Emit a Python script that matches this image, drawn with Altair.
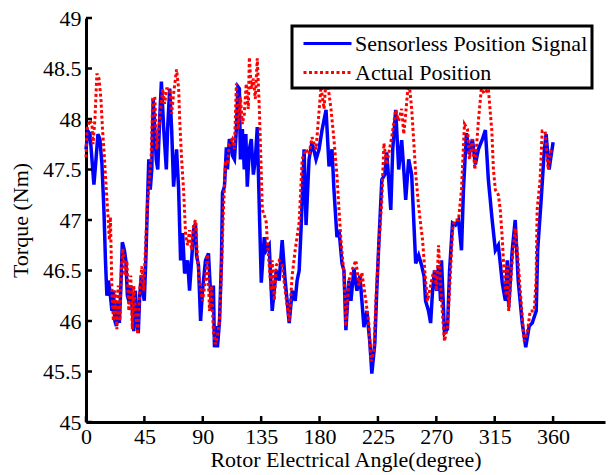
import altair as alt
import pandas as pd

series_names = ["Sensorless Position Signal", "Actual Position"]

blue_x = [0, 1.5, 3.1, 4.6, 6.1, 7.7, 9.2, 10.7, 12.3, 13.8, 15.0, 16.1, 17.3, 18.4, 20.0, 21.1, 22.3, 23.4, 24.6, 25.7,
          26.9, 28.0, 29.6, 30.7, 31.9, 33.0, 34.5, 35.7, 36.8, 38.0, 39.1, 40.3, 41.4, 42.6, 43.8, 44.9, 46.1, 47.2, 48.4, 49.5,
          50.7, 51.8, 53.0, 54.1, 55.3, 56.8, 58.1, 59.9, 61.9, 62.9, 64.5, 66.0, 67.5, 69.8, 71.4, 72.9, 74.5, 76.0, 78.3, 79.8,
          81.4, 82.9, 84.4, 85.2, 86.7, 88.3, 89.8, 92.1, 94.4, 96.7, 98.2, 99.0, 100.6, 101.3, 102.9, 104.4, 105.2, 106.7, 108.2, 109.0,
          110.5, 112.1, 112.8, 114.4, 115.9, 117.1, 118.2, 119.0, 120.5, 122.0, 123.2, 124.3, 125.9, 127.4, 129.0, 130.5, 132.0, 133.6, 135.1, 137.4,
          138.9, 141.2, 143.5, 146.6, 148.9, 151.2, 153.5, 155.0, 156.6, 158.9, 161.2, 162.7, 164.3, 165.8, 168.1, 169.6, 171.9, 174.2, 177.3, 179.6,
          181.9, 185.0, 187.3, 189.6, 191.1, 193.4, 195.0, 197.3, 198.8, 200.3, 202.6, 204.2, 206.5, 208.8, 211.1, 214.2, 216.5, 218.8, 220.3, 222.6,
          224.1, 225.7, 228.0, 230.3, 231.8, 234.9, 236.4, 238.7, 241.0, 243.3, 244.9, 246.4, 248.7, 251.0, 254.1, 256.4, 258.7, 260.6, 261.7, 264.0,
          265.6, 267.1, 268.6, 270.2, 271.7, 273.3, 274.0, 276.3, 278.6, 280.2, 282.5, 284.8, 287.1, 289.4, 290.9, 293.2, 295.5, 297.8, 300.1, 302.4,
          305.5, 307.8, 310.1, 312.8, 315.5, 317.8, 320.9, 323.2, 324.7, 325.8, 328.5, 330.8, 333.1, 336.2, 338.9, 341.6, 343.9, 347.0, 348.1, 350.8,
          353.1, 354.6, 356.9, 360.0]
blue_y = [47.7, 47.88, 47.85, 47.6, 47.35, 47.6, 47.85, 47.8, 47.55, 47.1, 46.6, 46.25, 46.4, 46.3, 46.1, 46.3, 46.0, 45.95, 46.2, 45.98,
          46.35, 46.78, 46.7, 46.6, 46.25, 46.2, 46.35, 46.1, 45.9, 46.3, 46.0, 45.88, 46.25, 46.45, 46.3, 46.2, 46.6, 47.1, 47.6, 47.3,
          47.5, 48.2, 47.9, 47.6, 47.5, 48.0, 48.37, 47.9, 47.5, 47.9, 48.3, 47.9, 47.33, 47.7, 47.3, 46.6, 46.87, 46.47, 46.6, 46.3,
          46.6, 46.9, 46.97, 46.65, 46.55, 46.0, 46.3, 46.6, 46.67, 46.1, 46.35, 45.74, 45.95, 45.74, 46.0, 46.6, 47.27, 47.33, 47.72, 47.5,
          47.8, 47.75, 47.64, 47.6, 47.9, 48.32, 48.3, 47.6, 47.9, 47.5, 47.85, 47.33, 47.7, 47.8, 47.45, 47.6, 47.92, 47.1, 46.38, 46.83,
          46.7, 46.75, 46.1, 46.5, 46.4, 46.8, 46.4, 46.2, 45.98, 46.3, 46.2, 46.4, 46.5, 46.93, 47.7, 46.95, 47.6, 47.77, 47.6, 47.7,
          47.89, 48.09, 47.53, 47.7, 47.3, 46.83, 46.9, 46.57, 46.5, 45.91, 46.4, 46.2, 46.52, 46.3, 46.45, 45.94, 46.1, 45.78, 45.48, 45.78,
          46.3, 46.77, 47.4, 47.45, 47.67, 47.1, 47.7, 48.09, 47.5, 47.79, 47.5, 47.2, 47.6, 47.45, 46.57, 46.65, 46.55, 46.44, 46.2, 46.1,
          45.98, 46.3, 46.5, 46.3, 46.55, 46.2, 46.6, 45.88, 45.92, 46.5, 46.97, 46.95, 47.0, 46.7, 47.3, 47.86, 47.65, 47.8, 47.55, 47.7,
          47.8, 47.89, 47.4, 47.03, 46.7, 46.75, 46.37, 46.2, 46.6, 46.14, 46.7, 47.0, 46.4, 45.98, 45.74, 45.95, 45.98, 46.1, 46.7, 47.2,
          47.67, 47.85, 47.5, 47.77]

red_x = [0, 0.8, 3.1, 4.6, 5.4, 6.9, 8.4, 10.0, 11.5, 12.7, 13.8, 15.4, 16.9, 18.0, 18.8, 20.0, 21.1, 22.3, 23.8, 24.9,
         26.1, 27.2, 28.4, 29.9, 31.5, 33.0, 34.5, 35.7, 36.8, 38.4, 39.9, 41.4, 43.0, 44.5, 46.1, 47.6, 49.1, 50.3, 51.4, 53.0,
         54.5, 56.0, 57.6, 59.1, 60.6, 62.2, 64.5, 66.0, 67.5, 69.8, 71.4, 72.2, 73.7, 75.2, 76.8, 78.3, 79.8, 81.4, 82.9, 84.4,
         86.0, 87.5, 89.8, 92.1, 93.6, 95.2, 96.7, 98.2, 99.8, 101.3, 102.9, 104.4, 105.9, 107.5, 109.0, 110.5, 112.8, 114.4, 115.9, 117.4,
         119.0, 120.5, 122.0, 123.5, 125.1, 125.9, 127.4, 129.0, 130.5, 132.0, 133.6, 135.1, 135.9, 137.4, 138.9, 139.7, 141.2, 142.7, 143.5, 145.1,
         146.6, 148.9, 151.2, 153.5, 156.6, 158.9, 161.2, 164.3, 166.6, 169.6, 171.9, 174.2, 177.3, 181.1, 183.5, 185.0, 187.3, 188.8, 191.1, 193.4,
         195.0, 196.5, 198.8, 200.3, 202.6, 204.9, 208.0, 210.3, 212.6, 215.7, 218.0, 219.6, 221.9, 223.4, 225.7, 228.0, 229.6, 231.8, 235.6, 238.7,
         241.0, 243.3, 244.9, 246.4, 248.7, 251.0, 252.5, 254.1, 256.4, 258.0, 259.4, 261.7, 263.3, 264.8, 267.1, 268.6, 270.2, 271.7, 274.0, 276.3,
         278.6, 280.2, 282.5, 284.0, 287.1, 289.4, 291.7, 294.0, 295.5, 297.8, 299.7, 302.4, 304.7, 307.0, 310.1, 312.8, 314.0, 315.5, 317.8, 319.3,
         320.9, 322.4, 323.9, 324.7, 325.8, 328.5, 330.8, 332.4, 334.7, 337.7, 340.0, 342.3, 345.4, 346.9, 347.7, 350.0, 351.6, 353.9, 356.2, 358.5]
red_y = [47.62, 47.9, 47.99, 47.95, 47.75, 48.0, 48.45, 48.4, 48.2, 47.9, 47.7, 47.35, 47.05, 46.8, 47.03, 46.3, 46.0, 46.3, 45.92, 46.35,
         46.0, 46.5, 46.72, 46.45, 46.6, 46.1, 46.45, 45.92, 46.35, 46.05, 45.87, 46.3, 46.54, 46.3, 46.8, 47.2, 47.45, 47.65, 48.2, 48.22,
         47.7, 47.9, 48.1, 48.3, 48.15, 48.3, 48.3, 48.05, 48.25, 48.49, 48.3, 48.0, 47.6, 47.3, 46.85, 46.75, 46.9, 46.7, 46.95, 47.0,
         46.6, 46.4, 46.2, 46.4, 46.66, 46.1, 46.35, 45.9, 45.77, 45.85, 46.0, 46.5, 47.1, 47.56, 47.55, 47.75, 47.8, 47.7, 48.35, 47.9,
         48.22, 47.95, 48.05, 48.35, 48.1, 48.61, 48.3, 48.4, 48.2, 48.6, 48.1, 47.46, 47.1, 47.05, 46.98, 46.8, 46.55, 46.3, 46.6, 46.2,
         46.55, 46.6, 46.55, 46.3, 46.0, 46.45, 46.7, 46.98, 47.6, 47.7, 47.65, 47.82, 47.7, 48.32, 48.1, 48.4, 48.25, 48.1, 47.8, 47.44,
         47.1, 46.8, 46.47, 45.95, 46.4, 46.5, 46.6, 46.35, 46.48, 46.2, 45.97, 45.6, 45.7, 46.2, 46.75, 47.2, 47.76, 47.55, 47.82, 48.09,
         47.98, 48.1, 47.85, 48.05, 48.4, 48.1, 47.8, 47.46, 47.13, 46.95, 46.8, 46.4, 46.2, 46.3, 46.45, 46.5, 46.3, 46.75, 46.2, 45.8,
         45.95, 46.3, 46.9, 47.0, 47.0, 47.3, 47.95, 47.9, 47.6, 47.8, 47.5, 47.98, 48.3, 48.25, 48.3, 47.88, 47.5, 47.3, 47.25, 47.1,
         46.8, 46.44, 46.25, 46.55, 46.1, 46.6, 46.92, 46.7, 46.3, 45.8, 45.87, 46.1, 46.1, 46.4, 47.1, 47.4, 47.88, 47.88, 47.5, 47.7]

x_ticks = [0, 45, 90, 135, 180, 225, 270, 315, 360]
y_ticks = [45, 45.5, 46, 46.5, 47, 47.5, 48, 48.5, 49]

FONT = "Liberation Serif"
FS = 22

df_blue = pd.DataFrame({"angle": blue_x, "torque": blue_y, "series": series_names[0]})
df_red = pd.DataFrame({"angle": red_x, "torque": red_y, "series": series_names[1]})

xscale = alt.Scale(domain=[0, 400], nice=False, zero=False)
yscale = alt.Scale(domain=[45, 49], nice=False, zero=False)

color = alt.Color("series:N", scale=alt.Scale(domain=series_names, range=["#0000FF", "#FF0000"]),
                  legend=alt.Legend(title=None))
dash = alt.StrokeDash("series:N", scale=alt.Scale(domain=series_names, range=[[1, 0], [3, 2.5]]),
                      legend=alt.Legend(title=None))

xaxis = alt.Axis(values=x_ticks, format="d", title="Rotor Electrical Angle(degree)", tickSize=0,
                 labelPadding=4, titlePadding=2, grid=False, domainWidth=3, domainColor="black",
                 labelFont=FONT, labelFontSize=FS, labelColor="black", labelFlush=False,
                 titleFont=FONT, titleFontSize=FS, titleFontWeight="normal", titleColor="black")
yaxis = alt.Axis(values=y_ticks, format="~g", title="Torque (Nm)", tickSize=0,
                 labelPadding=5, titlePadding=10, grid=False, domainWidth=3, domainColor="black",
                 labelFont=FONT, labelFontSize=FS, labelColor="black", labelFlush=False,
                 titleFont=FONT, titleFontSize=FS, titleFontWeight="normal", titleColor="black")

blue = alt.Chart(df_blue).mark_line(strokeWidth=3.5).encode(
    x=alt.X("angle:Q", scale=xscale, axis=xaxis),
    y=alt.Y("torque:Q", scale=yscale, axis=yaxis),
    color=color, strokeDash=dash)

red = alt.Chart(df_red).mark_line(strokeWidth=3).encode(
    x=alt.X("angle:Q", scale=xscale),
    y=alt.Y("torque:Q", scale=yscale),
    color=color, strokeDash=dash)

xt = alt.Chart(pd.DataFrame({"t": x_ticks})).mark_rule(color="black", strokeWidth=2.5).encode(
    x=alt.X("t:Q", scale=xscale), y=alt.value(404), y2=alt.value(398))
yt = alt.Chart(pd.DataFrame({"t": y_ticks})).mark_rule(color="black", strokeWidth=2.5).encode(
    y=alt.Y("t:Q", scale=yscale), x=alt.value(0), x2=alt.value(6))

chart = alt.layer(blue, red, xt, yt).properties(
    width=519, height=404,
    autosize=alt.AutoSizeParams(type="none"),
    padding={"left": 86, "top": 18, "right": 5, "bottom": 53},
    background="white",
).configure_view(stroke=None).configure_legend(
    orient="none", legendX=206, legendY=8,
    labelFont=FONT, labelFontSize=FS, labelColor="black", labelLimit=0,
    symbolType="M-2,0L2,0", symbolSize=576, symbolStrokeWidth=3, symbolOffset=18,
    labelOffset=14, rowPadding=4, padding=4,
    strokeColor="black", strokeWidth=3, fillColor="white")

chart.save("out.html", embed_options={"renderer": "svg", "actions": False})
